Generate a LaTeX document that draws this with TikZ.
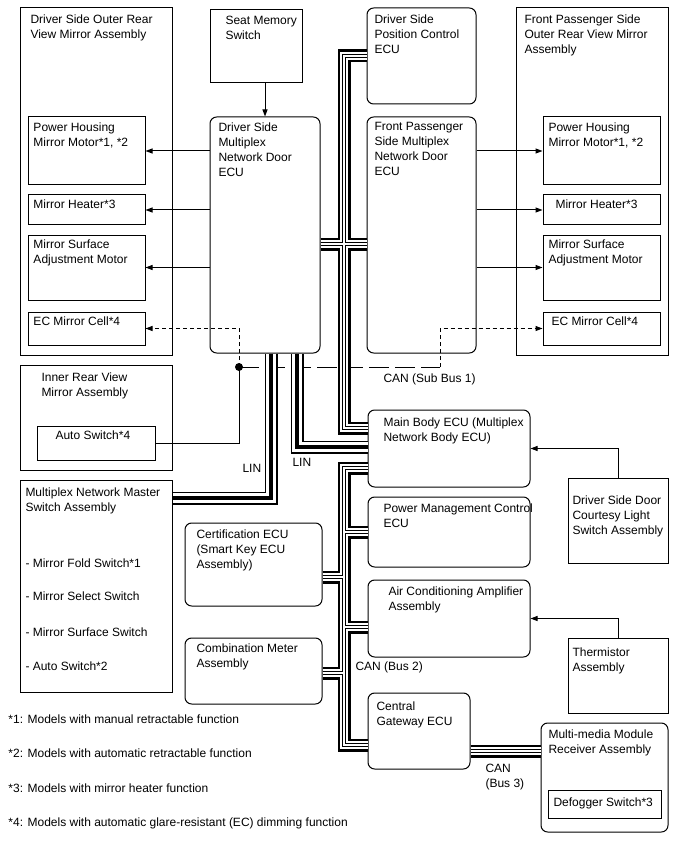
\documentclass[tikz,border=0pt]{standalone}
\usepackage{fontspec}
\setmainfont{Liberation Sans}
\usetikzlibrary{arrows.meta,fit}

\tikzset{every picture/.style={line width=0.75pt}}
\tikzset{
  box/.style={draw, inner sep=0pt},
  ecu/.style={draw, inner sep=0pt, rounded corners=5pt},
  txt/.style={anchor=north west, inner sep=0.75pt, align=left, font=\fontsize{9}{11.25}\selectfont},
  arr/.style={-{Triangle[length=5.25pt,width=3.75pt]}},
  ecline/.style={dash pattern=on 3pt off 2.25pt, -{Triangle[length=5.25pt,width=3.75pt]}},
  subbus/.style={dash pattern=on 15pt off 4.5pt},
  can/.style={draw=black, line width=9.75pt, postaction={draw=white, line width=6pt, postaction={draw=black, line width=3pt, postaction={draw=white, line width=1.5pt}}}},
  lin/.style={draw=black, line width=9.75pt, postaction={draw=white, line width=7.5pt, postaction={draw=black, line width=3.375pt}}}
}

\begin{document}
\begin{tikzpicture}[x=0.75pt,y=0.75pt,yscale=-1,xscale=1]
\useasboundingbox (0,0) rectangle (688,852);

%Driver side outer mirror
\node[box, fit={(20,8) (172,355)}] (lmir) {};
\node[txt] (lmir-t) at (29,13) {Driver Side Outer Rear\\View Mirror Assembly};
\node[box, fit={(28,117) (145,185)}] (lhous) {};
\node[txt] (lhous-t) at (32,121) {Power Housing\\Mirror Motor*1, *2};
\node[box, fit={(28,195) (145,225)}] (lheat) {};
\node[txt] (lheat-t) at (32,198) {Mirror Heater*3};
\node[box, fit={(28,235) (145,300)}] (lsurf) {};
\node[txt] (lsurf-t) at (32,238) {Mirror Surface\\Adjustment Motor};
\node[box, fit={(28,312) (145,345)}] (lec) {};
\node[txt] (lec-t) at (32,315) {EC Mirror Cell*4};

%Seat memory and driver door ECU
\node[box, fit={(210,10) (302,83)}] (seat) {};
\node[txt] (seat-t) at (224,15) {Seat Memory\\Switch};
\node[ecu, fit={(210,117) (320,353)}] (drvecu) {};
\node[txt] (drvecu-t) at (217,121) {Driver Side\\Multiplex\\Network Door\\ECU};

%Position control and passenger door ECU
\node[ecu, fit={(367,8) (476,104)}] (posctl) {};
\node[txt] (posctl-t) at (373,13) {Driver Side\\Position Control\\ECU};
\node[ecu, fit={(367,117) (476,353)}] (paxecu) {};
\node[txt] (paxecu-t) at (373,121) {Front Passenger\\Side Multiplex\\Network Door\\ECU};

%Passenger side outer mirror
\node[box, fit={(516,8) (668,355)}] (rmir) {};
\node[txt] (rmir-t) at (523,13) {Front Passenger Side\\Outer Rear View Mirror\\Assembly};
\node[box, fit={(543,117) (660,185)}] (rhous) {};
\node[txt] (rhous-t) at (547,121) {Power Housing\\Mirror Motor*1, *2};
\node[box, fit={(543,195) (660,225)}] (rheat) {};
\node[txt] (rheat-t) at (554,198) {Mirror Heater*3};
\node[box, fit={(543,235) (660,300)}] (rsurf) {};
\node[txt] (rsurf-t) at (547,238) {Mirror Surface\\Adjustment Motor};
\node[box, fit={(543,312) (660,345)}] (rec) {};
\node[txt] (rec-t) at (550,315) {EC Mirror Cell*4};

%Inner mirror and master switch
\node[box, fit={(20,365) (172,470)}] (inmir) {};
\node[txt] (inmir-t) at (40,371) {Inner Rear View\\Mirror Assembly};
\node[box, fit={(37,426) (155,460)}] (autosw) {};
\node[txt] (autosw-t) at (54,429) {Auto Switch*4};
\node[box, fit={(20,480) (172,692)}] (master) {};
\node[txt] (master-t) at (24,486) {Multiplex Network Master\\Switch Assembly};
\node[txt] (fold) at (24,557) {- Mirror Fold Switch*1};
\node[txt] (select) at (24,590) {- Mirror Select Switch};
\node[txt] (surfsw) at (24,626) {- Mirror Surface Switch};
\node[txt] (autosw2) at (24,660) {- Auto Switch*2};

%Body network ECUs
\node[ecu, fit={(368,410) (530,487)}] (mainbody) {};
\node[txt] (mainbody-t) at (382,416) {Main Body ECU (Multiplex\\Network Body ECU)};
\node[box, fit={(568,478) (668,563)}] (courtesy) {};
\node[txt] (courtesy-t) at (571,494) {Driver Side Door\\Courtesy Light\\Switch Assembly};
\node[ecu, fit={(368,497) (530,567)}] (power) {};
\node[txt] (power-t) at (382,502) {Power Management Control\\ECU};
\node[ecu, fit={(185,523) (322,606)}] (cert) {};
\node[txt] (cert-t) at (195,528) {Certification ECU\\(Smart Key ECU\\Assembly)};
\node[ecu, fit={(368,580) (530,657)}] (aircon) {};
\node[txt] (aircon-t) at (387,585) {Air Conditioning Amplifier\\Assembly};
\node[box, fit={(568,638) (668,713)}] (thermo) {};
\node[txt] (thermo-t) at (571,646) {Thermistor\\Assembly};
\node[ecu, fit={(185,638) (322,704)}] (combo) {};
\node[txt] (combo-t) at (195,642) {Combination Meter\\Assembly};
\node[ecu, fit={(368,693) (470,769)}] (gateway) {};
\node[txt] (gateway-t) at (375,700) {Central\\Gateway ECU};
\node[ecu, fit={(541,723) (668,832)}] (mmedia) {};
\node[txt] (mmedia-t) at (547,728) {Multi-media Module\\Receiver Assembly};
\node[box, fit={(548,790) (661,818)}] (defog) {};
\node[txt] (defog-t) at (552,796) {Defogger Switch*3};

%Bus labels
\node[txt] (sub1-t) at (382,372) {CAN (Sub Bus 1)};
\node[txt] (lin1-t) at (241,463) {LIN};
\node[txt] (lin2-t) at (291,457) {LIN};
\node[txt] (bus2-t) at (354,660) {CAN (Bus 2)};
\node[txt] (bus3-t) at (484,763) {CAN\\(Bus 3)};

%Footnotes
\node[txt] (note1) at (7,713) {*1: Models with manual retractable function};
\node[txt] (note2) at (7,747) {*2: Models with automatic retractable function};
\node[txt] (note3) at (7,782) {*3: Models with mirror heater function};
\node[txt] (note4) at (7,816) {*4: Models with automatic glare-resistant (EC) dimming function};

%Control arrows
\draw[arr] (seat.south -| 265,0) -- (265,0 |- drvecu.north);
\draw[arr] (drvecu.west |- lhous.east) -- (lhous.east);
\draw[arr] (drvecu.west |- lheat.east) -- (lheat.east);
\draw[arr] (drvecu.west |- lsurf.east) -- (lsurf.east);
\draw[arr] (paxecu.east |- rhous.west) -- (rhous.west);
\draw[arr] (paxecu.east |- rheat.west) -- (rheat.west);
\draw[arr] (paxecu.east |- rsurf.west) -- (rsurf.west);
\draw[arr] (courtesy.north) |- (mainbody.east);
\draw[arr] (thermo.north) |- (aircon.east);

%Sub bus 1 (EC mirror)
\coordinate (sub1) at (239,367);
\coordinate (sub1r) at (440,367);
\draw[subbus] (sub1) -- (sub1r);
\draw[ecline] (sub1) -- (sub1 |- lec.east) -- (lec.east);
\draw[ecline] (sub1r) -- (sub1r |- rec.west) -- (rec.west);
\draw (autosw.east) -| (sub1);
\fill (sub1) circle (3pt);

%CAN and LIN buses
\coordinate (cantop) at (344,56);
\coordinate (canbot) at (344,428);
\coordinate (bus2top) at (344,468);
\coordinate (bus2bot) at (344,745);
\draw[can] (posctl.west |- cantop) -- (cantop) -- (canbot) -- (mainbody.west |- canbot)
  (drvecu.east |- 0,244) -- (paxecu.west |- 0,244);
\draw[can] (mainbody.west |- bus2top) -- (bus2top) -- (bus2bot) -- (gateway.west |- bus2bot)
  (344,532) -- (power.west |- 0,532)
  (344,627) -- (aircon.west |- 0,627)
  (cert.east |- 0,577) -- (344,577)
  (combo.east |- 0,673) -- (344,673);
\draw[can] (gateway.east |- 0,751) -- (mmedia.west |- 0,751);
\draw[lin] (drvecu.south -| 271,0) -- (271,498) -- (master.east |- 0,498);
\draw[lin] (drvecu.south -| 297,0) -- (297,447) -- (mainbody.west |- 0,447);

\end{tikzpicture}
\end{document}
